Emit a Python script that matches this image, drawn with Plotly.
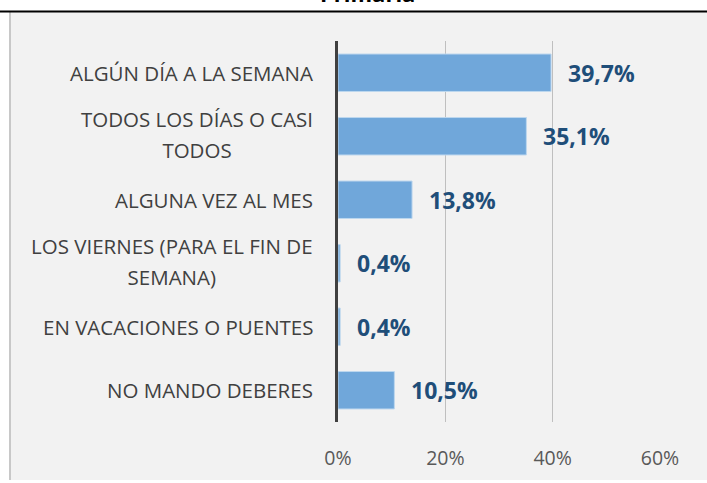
import plotly.graph_objects as go

categories = [
    "ALGÚN DÍA A LA SEMANA",
    "TODOS LOS DÍAS O CASI<br>TODOS",
    "ALGUNA VEZ AL MES",
    "LOS VIERNES (PARA EL FIN DE<br>SEMANA)",
    "EN VACACIONES O PUENTES",
    "NO MANDO DEBERES",
]
values = [0.397, 0.351, 0.138, 0.004, 0.004, 0.105]
value_labels = ["39,7%", "35,1%", "13,8%", "0,4%", "0,4%", "10,5%"]
tick_vals = [0, 0.2, 0.4, 0.6]
tick_text = ["0%", "20%", "40%", "60%"]
title = "Primaria"

W, H = 707, 483
L, R, T, B = 338, 47, 41, 54
pw, ph = W - L - R, H - T - B

def px_x(x):
    return (x - L) / pw

def px_y(y):
    return 1 - (y - T) / ph

FONT = "Open Sans"

fig = go.Figure()
fig.add_trace(go.Bar(
    y=categories, x=values, orientation="h",
    marker=dict(color="#70A7DA", line=dict(color="#BDD7EE", width=1)),
    hoverinfo="skip",
))

shapes = [
    dict(type="rect", xref="paper", yref="paper",
         x0=px_x(9), x1=px_x(W + 5), y0=px_y(H + 5), y1=px_y(11),
         fillcolor="#F2F2F2", line=dict(width=0), layer="below"),
    dict(type="line", xref="paper", yref="paper",
         x0=px_x(10), x1=px_x(10), y0=px_y(H + 5), y1=px_y(11),
         line=dict(color="#C8C8C8", width=2), layer="below"),
    dict(type="line", xref="paper", yref="paper",
         x0=px_x(-2), x1=px_x(W + 5), y0=px_y(11), y1=px_y(11),
         line=dict(color="#000000", width=2), layer="below"),
]

annotations = []
for c, v, t in zip(categories, values, value_labels):
    annotations.append(dict(
        x=v, y=c, xref="x", yref="y", text="<b>" + t + "</b>",
        showarrow=False, xanchor="left", yanchor="middle", xshift=15,
        font=dict(family=FONT, size=23, color="#1F4E79"),
    ))
    label = "<br>".join(
        "<span style='font-size:20.5px'>" + part + "</span>" for part in c.split("<br>")
    )
    annotations.append(dict(
        x=0, y=c, xref="paper", yref="y", text=label,
        showarrow=False, xanchor="right", yanchor="middle", xshift=-23,
        yshift=2 if "<br>" in c else 0,
        align="center",
        font=dict(family=FONT, size=23.5, color="#404040"),
    ))
annotations.append(dict(
    x=px_x(367), y=px_y(9), xref="paper", yref="paper",
    text="<b>" + title + "</b>", showarrow=False,
    xanchor="center", yanchor="bottom",
    font=dict(family=FONT, size=22, color="#000000"),
))

fig.update_layout(
    width=W, height=H,
    margin=dict(l=L, r=R, t=T, b=B, pad=0),
    paper_bgcolor="#FFFFFF", plot_bgcolor="#F2F2F2",
    showlegend=False, bargap=0.41,
    shapes=shapes, annotations=annotations,
    xaxis=dict(range=[0, 0.6], tickvals=tick_vals, ticktext=tick_text,
               showgrid=True, gridcolor="#BFBFBF", gridwidth=1,
               zeroline=False, showline=False,
               ticklabelstandoff=22,
               tickfont=dict(family=FONT, size=19.5, color="#595959")),
    yaxis=dict(autorange="reversed", showticklabels=False,
               showgrid=False, zeroline=False,
               showline=True, linecolor="#404040", linewidth=3),
)

fig.write_html(
    "out.html",
    config={"displayModeBar": False},
    post_script="document.body.style.margin='0';document.body.style.overflow='hidden';",
)
